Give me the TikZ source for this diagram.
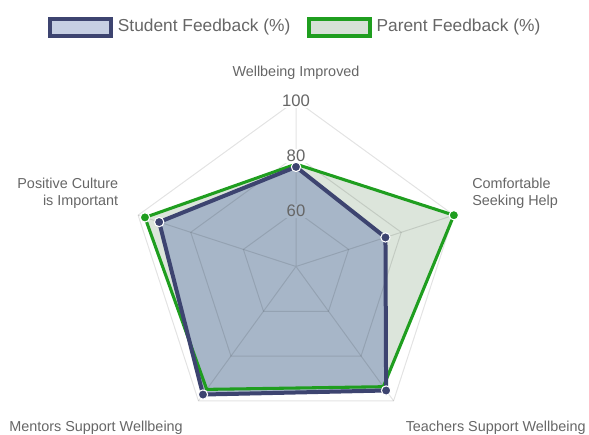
\documentclass[tikz,border=0pt]{standalone}
\usepackage{fontspec}
\setmainfont{Liberation Sans}
\usetikzlibrary{positioning}

\definecolor{stuline}{HTML}{3D4470}
\definecolor{stubox}{HTML}{C6CFE3}
\definecolor{stuarea}{HTML}{A7B6C8}
\definecolor{parline}{HTML}{1F9E1F}
\definecolor{parbox}{HTML}{D7E1D7}
\definecolor{pararea}{HTML}{DCE5DB}
\definecolor{labelgray}{HTML}{666666}

\begin{document}
\begin{tikzpicture}[x=0.75pt,y=0.75pt,
  legendbox/.style={draw,line width=3pt,minimum width=45.75pt,minimum height=13pt,inner sep=0pt},
  legendtext/.style={text=labelgray,font=\fontsize{13}{15}\selectfont,inner sep=0pt},
  axislabel/.style={text=labelgray,font=\fontsize{10.8}{12.8}\selectfont,inner sep=0pt},
  ticklabel/.style={text=labelgray,font=\fontsize{12.5}{15}\selectfont,inner sep=1pt},
  grid/.style={draw=black,draw opacity=0.11,line width=0.75pt},
  dot/.style={circle,draw=white,line width=0.8pt,inner sep=0pt,minimum size=7pt}]
  \useasboundingbox (0,0) rectangle (589,-435);

  % legend
  \node[legendbox,draw=stuline,fill=stubox]   (sbox) at (80.5,-27.5) {};
  \node[legendtext] (stext) [right=3.5pt of sbox]  {Student Feedback (\%)};
  \node[legendbox,draw=parline,fill=parbox]   (pbox) [right=12pt of stext] {};
  \node[legendtext] (ptext) [right=3.5pt of pbox]  {Parent Feedback (\%)};

  % axis labels
  \node[axislabel]                       (wi)  at (296,-73)   {Wellbeing Improved};
  \node[axislabel,anchor=west,align=left]  (csh) at (472,-193)  {Comfortable\\Seeking Help};
  \node[axislabel,anchor=west]           (tsw) at (405.5,-428) {Teachers Support Wellbeing};
  \node[axislabel,anchor=east]           (msw) at (183,-428)   {Mentors Support Wellbeing};
  \node[axislabel,anchor=east,align=right] (pci) at (118.5,-193) {Positive Culture\\is Important};

  \begin{scope}[shift={(296,-266.5)}]
    \coordinate (c) at (0,0);
    % scale: centre = 40, outer ring = 100
    \coordinate (s1) at (90:{(76-40)*166/60});
    \coordinate (s2) at (18:{(74-40)*166/60});
    \coordinate (s3) at (-54:{(95.4-40)*166/60});
    \coordinate (s4) at (-126:{(97.2-40)*166/60});
    \coordinate (s5) at (162:{(92-40)*166/60});
    \coordinate (p1) at (90:{(77-40)*166/60});
    \coordinate (p2) at (18:{(100-40)*166/60});
    \coordinate (p3) at (-54:{(93.7-40)*166/60});
    \coordinate (p4) at (-126:{(94.9-40)*166/60});
    \coordinate (p5) at (162:{(97.4-40)*166/60});

    \fill[pararea] (p1) -- (p2) -- (p3) -- (p4) -- (p5) -- cycle;
    \fill[stuarea] (s1) -- (s2) -- (s3) -- (s4) -- (s5) -- cycle;

    % rings and spokes
    \draw[grid] (90:55.33) -- (18:55.33) -- (-54:55.33) -- (-126:55.33) -- (162:55.33) -- cycle;
    \draw[grid] (90:110.67) -- (18:110.67) -- (-54:110.67) -- (-126:110.67) -- (162:110.67) -- cycle;
    \draw[grid] (90:166) -- (18:166) -- (-54:166) -- (-126:166) -- (162:166) -- cycle;
    \draw[grid] (c) -- (90:166) (c) -- (18:166) (c) -- (-54:166) (c) -- (-126:166) (c) -- (162:166);

    \node[ticklabel,fill=white]   (t100) at (90:166)    {100};
    \node[ticklabel,fill=white]   (t80)  at (90:110.67) {80};
    \node[ticklabel,fill=stuarea] (t60)  at (90:55.33)  {60};

    \draw[parline,line width=2.3pt,line join=round] (p1) -- (p2) -- (p3) -- (p4) -- (p5) -- cycle;
    \draw[stuline,line width=3pt,line join=round] (s1) -- (s2) -- (s3) -- (s4) -- (s5) -- cycle;

    \node[dot,fill=parline] (pd2) at (p2) {};
    \node[dot,fill=parline] (pd5) at (p5) {};
    \node[dot,fill=stuline] (sd1) at (s1) {};
    \node[dot,fill=stuline] (sd2) at (s2) {};
    \node[dot,fill=stuline] (sd3) at (s3) {};
    \node[dot,fill=stuline] (sd4) at (s4) {};
    \node[dot,fill=stuline] (sd5) at (s5) {};
  \end{scope}
\end{tikzpicture}
\end{document}
